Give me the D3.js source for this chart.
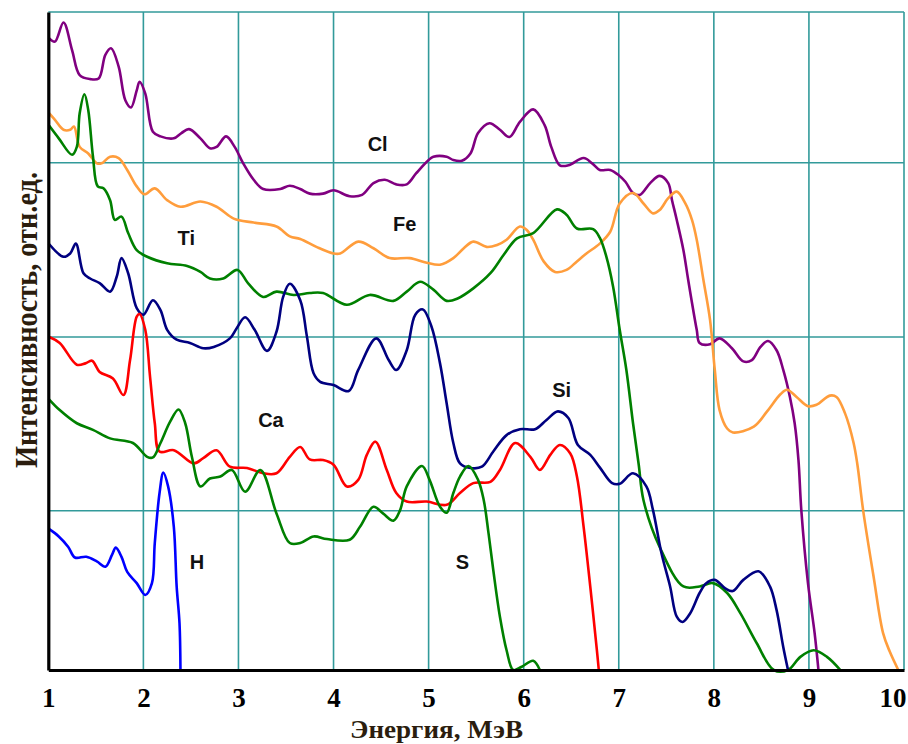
<!DOCTYPE html>
<html><head><meta charset="utf-8">
<script src="https://cdn.jsdelivr.net/npm/d3@7"></script>
<style>html,body{margin:0;padding:0;background:#fff;} svg{display:block}</style>
</head><body><svg id="c" width="908" height="744"></svg>
<script>
// ---- data (energy MeV, relative intensity) ----
const xTicks = [1,2,3,4,5,6,7,8,9,10];
const yGrid = [24.2, 50.6, 77.1, 100];
const xTitle = "Энергия, МэВ";
const yTitle = "Интенсивность, отн.ед.";

const clData = [[1.01,96.0],[1.07,95.5],[1.16,98.4],[1.25,94.2],[1.33,90.4],[1.44,89.8],[1.53,89.9],[1.60,93.5],[1.66,94.5],[1.74,91.7],[1.81,86.6],[1.87,85.5],[1.93,88.1],[1.96,89.4],[2.02,87.6],[2.10,81.8],[2.18,81.1],[2.32,80.8],[2.40,81.6],[2.48,82.2],[2.60,80.8],[2.70,79.3],[2.77,79.5],[2.87,81.1],[2.96,79.5],[3.05,77.0],[3.16,74.5],[3.26,73.1],[3.44,73.1],[3.54,73.6],[3.65,73.1],[3.75,72.4],[3.89,72.4],[4.00,72.9],[4.17,72.0],[4.30,72.2],[4.42,74.0],[4.54,74.5],[4.66,73.8],[4.77,73.8],[4.87,75.5],[5.00,77.5],[5.05,78.0],[5.19,78.0],[5.26,77.5],[5.35,77.4],[5.44,78.5],[5.52,81.6],[5.64,83.1],[5.75,82.1],[5.85,81.0],[5.96,83.3],[6.10,85.2],[6.22,82.8],[6.29,79.5],[6.38,76.7],[6.47,76.7],[6.63,77.8],[6.72,77.0],[6.80,76.0],[6.91,76.0],[7.00,75.2],[7.07,74.2],[7.15,72.5],[7.22,72.2],[7.33,74.0],[7.43,75.1],[7.52,74.0],[7.56,71.4],[7.61,68.4],[7.68,63.8],[7.73,59.3],[7.82,51.7],[7.85,49.7],[7.96,49.5],[8.06,50.4],[8.19,48.9],[8.31,46.9],[8.40,47.1],[8.49,49.1],[8.57,50.0],[8.66,48.6],[8.73,45.6],[8.80,41.5],[8.85,37.5],[8.89,31.9],[8.92,24.3],[8.99,13.2],[9.06,5.6],[9.10,0]];

const feData = [[1.01,84.6],[1.07,83.6],[1.16,82.1],[1.23,82.1],[1.27,82.6],[1.33,79.5],[1.42,78.5],[1.51,77.0],[1.56,77.0],[1.65,78.0],[1.74,77.8],[1.83,76.0],[1.93,73.5],[2.01,72.3],[2.12,73.2],[2.25,71.4],[2.39,70.4],[2.60,71.2],[2.77,70.4],[2.95,68.6],[3.16,68.0],[3.40,67.4],[3.54,65.9],[3.65,65.5],[3.82,64.3],[4.00,63.3],[4.07,63.3],[4.26,65.1],[4.42,64.1],[4.59,62.6],[4.80,62.6],[4.98,61.9],[5.12,61.6],[5.26,62.6],[5.37,64.1],[5.47,65.1],[5.61,64.3],[5.72,64.6],[5.82,65.4],[5.96,67.4],[6.03,66.9],[6.10,65.4],[6.21,62.1],[6.33,60.5],[6.45,60.8],[6.56,62.1],[6.66,63.3],[6.80,64.8],[6.91,66.6],[7.01,70.9],[7.15,72.5],[7.26,70.9],[7.36,69.4],[7.43,69.9],[7.52,71.7],[7.61,72.7],[7.70,70.9],[7.77,68.4],[7.82,65.4],[7.89,59.3],[7.96,53.2],[8.01,45.6],[8.06,39.5],[8.14,36.7],[8.20,36.1],[8.42,37.0],[8.56,39.3],[8.70,41.9],[8.77,42.6],[8.87,41.5],[8.99,40.1],[9.08,40.3],[9.22,41.7],[9.29,41.5],[9.38,39.0],[9.47,34.5],[9.51,31.2],[9.57,24.3],[9.68,14.2],[9.78,5.6],[9.85,2.8],[9.94,0]];

const tiData = [[1.01,82.7],[1.11,80.8],[1.25,78.3],[1.30,79.5],[1.33,84.6],[1.38,87.5],[1.42,85.1],[1.47,78.0],[1.52,73.5],[1.58,73.2],[1.65,71.4],[1.70,68.4],[1.77,68.9],[1.84,66.4],[1.93,63.8],[2.04,62.8],[2.25,61.8],[2.46,61.4],[2.60,60.5],[2.70,59.5],[2.84,59.5],[2.99,60.8],[3.10,58.8],[3.26,56.7],[3.40,57.5],[3.58,57.0],[3.75,57.3],[3.89,57.3],[4.14,55.5],[4.38,57.0],[4.63,56.1],[4.77,57.5],[4.91,59.0],[5.05,57.8],[5.19,56.1],[5.31,56.5],[5.47,58.0],[5.65,60.3],[5.79,63.1],[5.93,65.6],[6.10,66.4],[6.35,70.0],[6.45,69.2],[6.56,67.1],[6.73,67.0],[6.80,65.7],[6.87,62.8],[6.94,58.3],[7.01,51.7],[7.08,45.6],[7.15,37.5],[7.21,31.2],[7.26,25.8],[7.43,18.7],[7.68,12.7],[7.85,12.7],[7.99,13.2],[8.14,11.7],[8.28,8.6],[8.45,4.1],[8.63,0],[8.78,0],[8.91,2.0],[9.05,3.0],[9.19,2.0],[9.33,0]];

const siData = [[1.01,64.7],[1.16,62.8],[1.23,63.3],[1.29,64.8],[1.37,60.3],[1.44,59.5],[1.54,58.8],[1.65,57.5],[1.72,59.8],[1.77,62.6],[1.84,60.3],[1.93,55.0],[2.00,54.0],[2.10,56.2],[2.18,54.7],[2.25,51.7],[2.35,50.2],[2.49,49.7],[2.63,48.9],[2.74,49.1],[2.91,50.4],[2.98,51.9],[3.07,53.6],[3.17,51.7],[3.30,48.5],[3.40,51.4],[3.47,56.7],[3.54,58.7],[3.65,56.2],[3.72,50.7],[3.79,45.1],[3.86,43.8],[4.00,43.3],[4.16,42.4],[4.26,45.6],[4.45,50.4],[4.58,47.1],[4.66,45.6],[4.77,48.6],[4.86,54.0],[4.94,54.8],[5.03,52.2],[5.12,46.6],[5.19,40.5],[5.26,34.5],[5.33,31.4],[5.44,30.7],[5.56,30.9],[5.68,33.2],[5.82,35.7],[5.96,36.6],[6.12,36.6],[6.24,38.0],[6.36,39.3],[6.47,38.3],[6.57,34.2],[6.70,32.7],[6.80,30.8],[6.93,28.4],[7.01,28.3],[7.15,29.9],[7.29,27.9],[7.36,24.3],[7.45,17.7],[7.54,12.7],[7.61,8.1],[7.67,7.3],[7.75,8.6],[7.85,11.7],[7.92,13.2],[8.01,13.7],[8.12,12.4],[8.20,12.0],[8.31,13.7],[8.47,15.0],[8.59,12.7],[8.66,9.1],[8.73,3.5],[8.78,0]];

const caData = [[1.01,50.6],[1.12,49.7],[1.30,46.4],[1.39,46.6],[1.46,47.0],[1.54,45.3],[1.68,44.3],[1.79,41.8],[1.86,47.1],[1.93,53.7],[1.96,54.1],[2.02,51.7],[2.07,44.6],[2.12,37.5],[2.17,33.2],[2.32,33.4],[2.53,31.4],[2.63,32.2],[2.77,33.4],[2.91,30.9],[3.09,30.7],[3.26,29.9],[3.40,29.9],[3.54,32.4],[3.65,33.9],[3.75,32.0],[3.89,31.9],[4.00,31.2],[4.14,27.9],[4.26,28.9],[4.35,32.7],[4.44,34.7],[4.56,30.4],[4.66,26.9],[4.77,25.6],[4.98,25.6],[5.19,25.1],[5.33,26.9],[5.47,28.4],[5.65,28.6],[5.75,30.4],[5.91,34.5],[6.07,32.4],[6.17,30.4],[6.28,32.7],[6.38,34.2],[6.49,32.9],[6.56,29.4],[6.63,21.8],[6.70,12.7],[6.77,3.0],[6.79,0]];

const sData = [[1.01,41.1],[1.12,39.5],[1.30,37.5],[1.47,36.5],[1.65,35.2],[1.89,34.5],[2.04,32.4],[2.10,32.3],[2.18,34.5],[2.28,37.7],[2.37,39.6],[2.44,37.5],[2.51,32.4],[2.60,27.9],[2.70,29.1],[2.81,29.4],[2.93,30.4],[3.07,27.1],[3.23,30.4],[3.40,23.8],[3.54,19.3],[3.65,19.3],[3.79,20.3],[3.93,19.9],[4.17,19.8],[4.28,21.8],[4.42,24.8],[4.52,23.8],[4.63,22.7],[4.70,24.3],[4.77,27.9],[4.93,31.0],[5.01,28.9],[5.12,24.8],[5.19,23.9],[5.26,26.9],[5.33,29.4],[5.42,31.0],[5.52,28.9],[5.58,25.8],[5.63,20.8],[5.68,15.2],[5.75,8.1],[5.82,3.0],[5.89,0],[5.98,0.5],[6.10,1.4],[6.17,0]];

const hData = [[1.01,21.4],[1.11,20.3],[1.21,18.7],[1.28,17.1],[1.40,17.2],[1.51,16.5],[1.60,15.7],[1.67,17.5],[1.71,18.6],[1.77,17.2],[1.83,14.9],[1.93,13.2],[2.02,11.4],[2.09,13.2],[2.12,19.3],[2.17,26.9],[2.21,30.0],[2.26,27.9],[2.32,21.8],[2.35,12.7],[2.38,7.1],[2.39,0]];

const seriesNames = ["Cl","Fe","Ti","Si","Ca","S","H"];
const labelPos = [[4.464,78.8],[4.748,66.7],[2.451,64.6],[6.399,41.5],[3.342,36.9],[5.356,15.4],[2.564,15.4]];

// ---- styles ----
const colors = {Cl:"#800080", Fe:"#FF9D3C", Ti:"#008000", Si:"#000080", Ca:"#FF0000", S:"#008000", H:"#0000FF"};
const dataByName = {Cl:clData, Fe:feData, Ti:tiData, Si:siData, Ca:caData, S:sData, H:hData};

const svg = d3.select("#c");
const x = d3.scaleLinear().domain([1,10]).range([48.3,904]);
const y = d3.scaleLinear().domain([0,100]).range([670,12]);
const gridColor = "#329a9a";

// grid
const grid = svg.append("g");
grid.selectAll("line.v").data(xTicks.slice(1)).join("line")
  .attr("x1", d=>x(d)).attr("x2", d=>x(d)).attr("y1", y(0)).attr("y2", y(100))
  .attr("stroke", gridColor).attr("stroke-width", 1.6);
grid.selectAll("line.h").data(yGrid).join("line")
  .attr("x1", x(1)).attr("x2", x(10)).attr("y1", d=>y(d)).attr("y2", d=>y(d))
  .attr("stroke", gridColor).attr("stroke-width", 1.6);

// curves
const line = d3.line().x(d=>x(d[0])).y(d=>y(d[1])).curve(d3.curveCatmullRom.alpha(0.5));
const series = seriesNames.map((n,i)=>({name:n, data:dataByName[n], lab:labelPos[i]}));
svg.append("g").selectAll("path").data(series).join("path")
  .attr("d", d=>line(d.data))
  .attr("fill","none").attr("stroke", d=>colors[d.name])
  .attr("stroke-width", 2.6).attr("stroke-linejoin","round").attr("stroke-linecap","round");

// series labels
svg.append("g").selectAll("text").data(series).join("text")
  .attr("x", d=>x(d.lab[0])).attr("y", d=>y(d.lab[1]))
  .attr("text-anchor","middle")
  .style("font-family","'Liberation Sans', Arial, sans-serif")
  .style("font-weight","bold").style("font-size","20px").attr("fill","#111")
  .text(d=>d.name);

// axes
const xAxis = d3.axisBottom(x).tickValues(xTicks).tickSize(0).tickPadding(18).tickFormat(d3.format("d"));
const gx = svg.append("g").attr("transform",`translate(0,${y(0)})`).call(xAxis);
gx.select(".domain").attr("stroke","#000").attr("stroke-width",3.2);
gx.selectAll("text")
  .style("font-family","'Liberation Serif','Times New Roman',serif")
  .style("font-weight","bold").style("font-size","27px").attr("fill","#000");
gx.selectAll(".tick").filter(d=>d===10).select("text").attr("text-anchor","end").attr("dx","2");

const gy = svg.append("g").attr("transform",`translate(${x(1)},0)`)
  .call(d3.axisLeft(y).tickValues([]).tickSizeOuter(0));
gy.select(".domain").attr("stroke","#000").attr("stroke-width",3.2);

// titles
svg.append("text").attr("x", 436.5).attr("y", 738)
  .attr("text-anchor","middle")
  .attr("textLength",173).attr("lengthAdjust","spacingAndGlyphs")
  .style("font-family","'Liberation Serif','Times New Roman',serif")
  .style("font-weight","bold").style("font-size","25px").attr("fill","#2b1d0e")
  .text(xTitle);
svg.append("text").attr("transform","translate(36.5,320) rotate(-90)")
  .attr("text-anchor","middle")
  .attr("textLength",296).attr("lengthAdjust","spacingAndGlyphs")
  .style("font-family","'Liberation Serif','Times New Roman',serif")
  .style("font-weight","bold").style("font-size","31px").attr("fill","#2b1d0e")
  .text(yTitle);
</script></body></html>
